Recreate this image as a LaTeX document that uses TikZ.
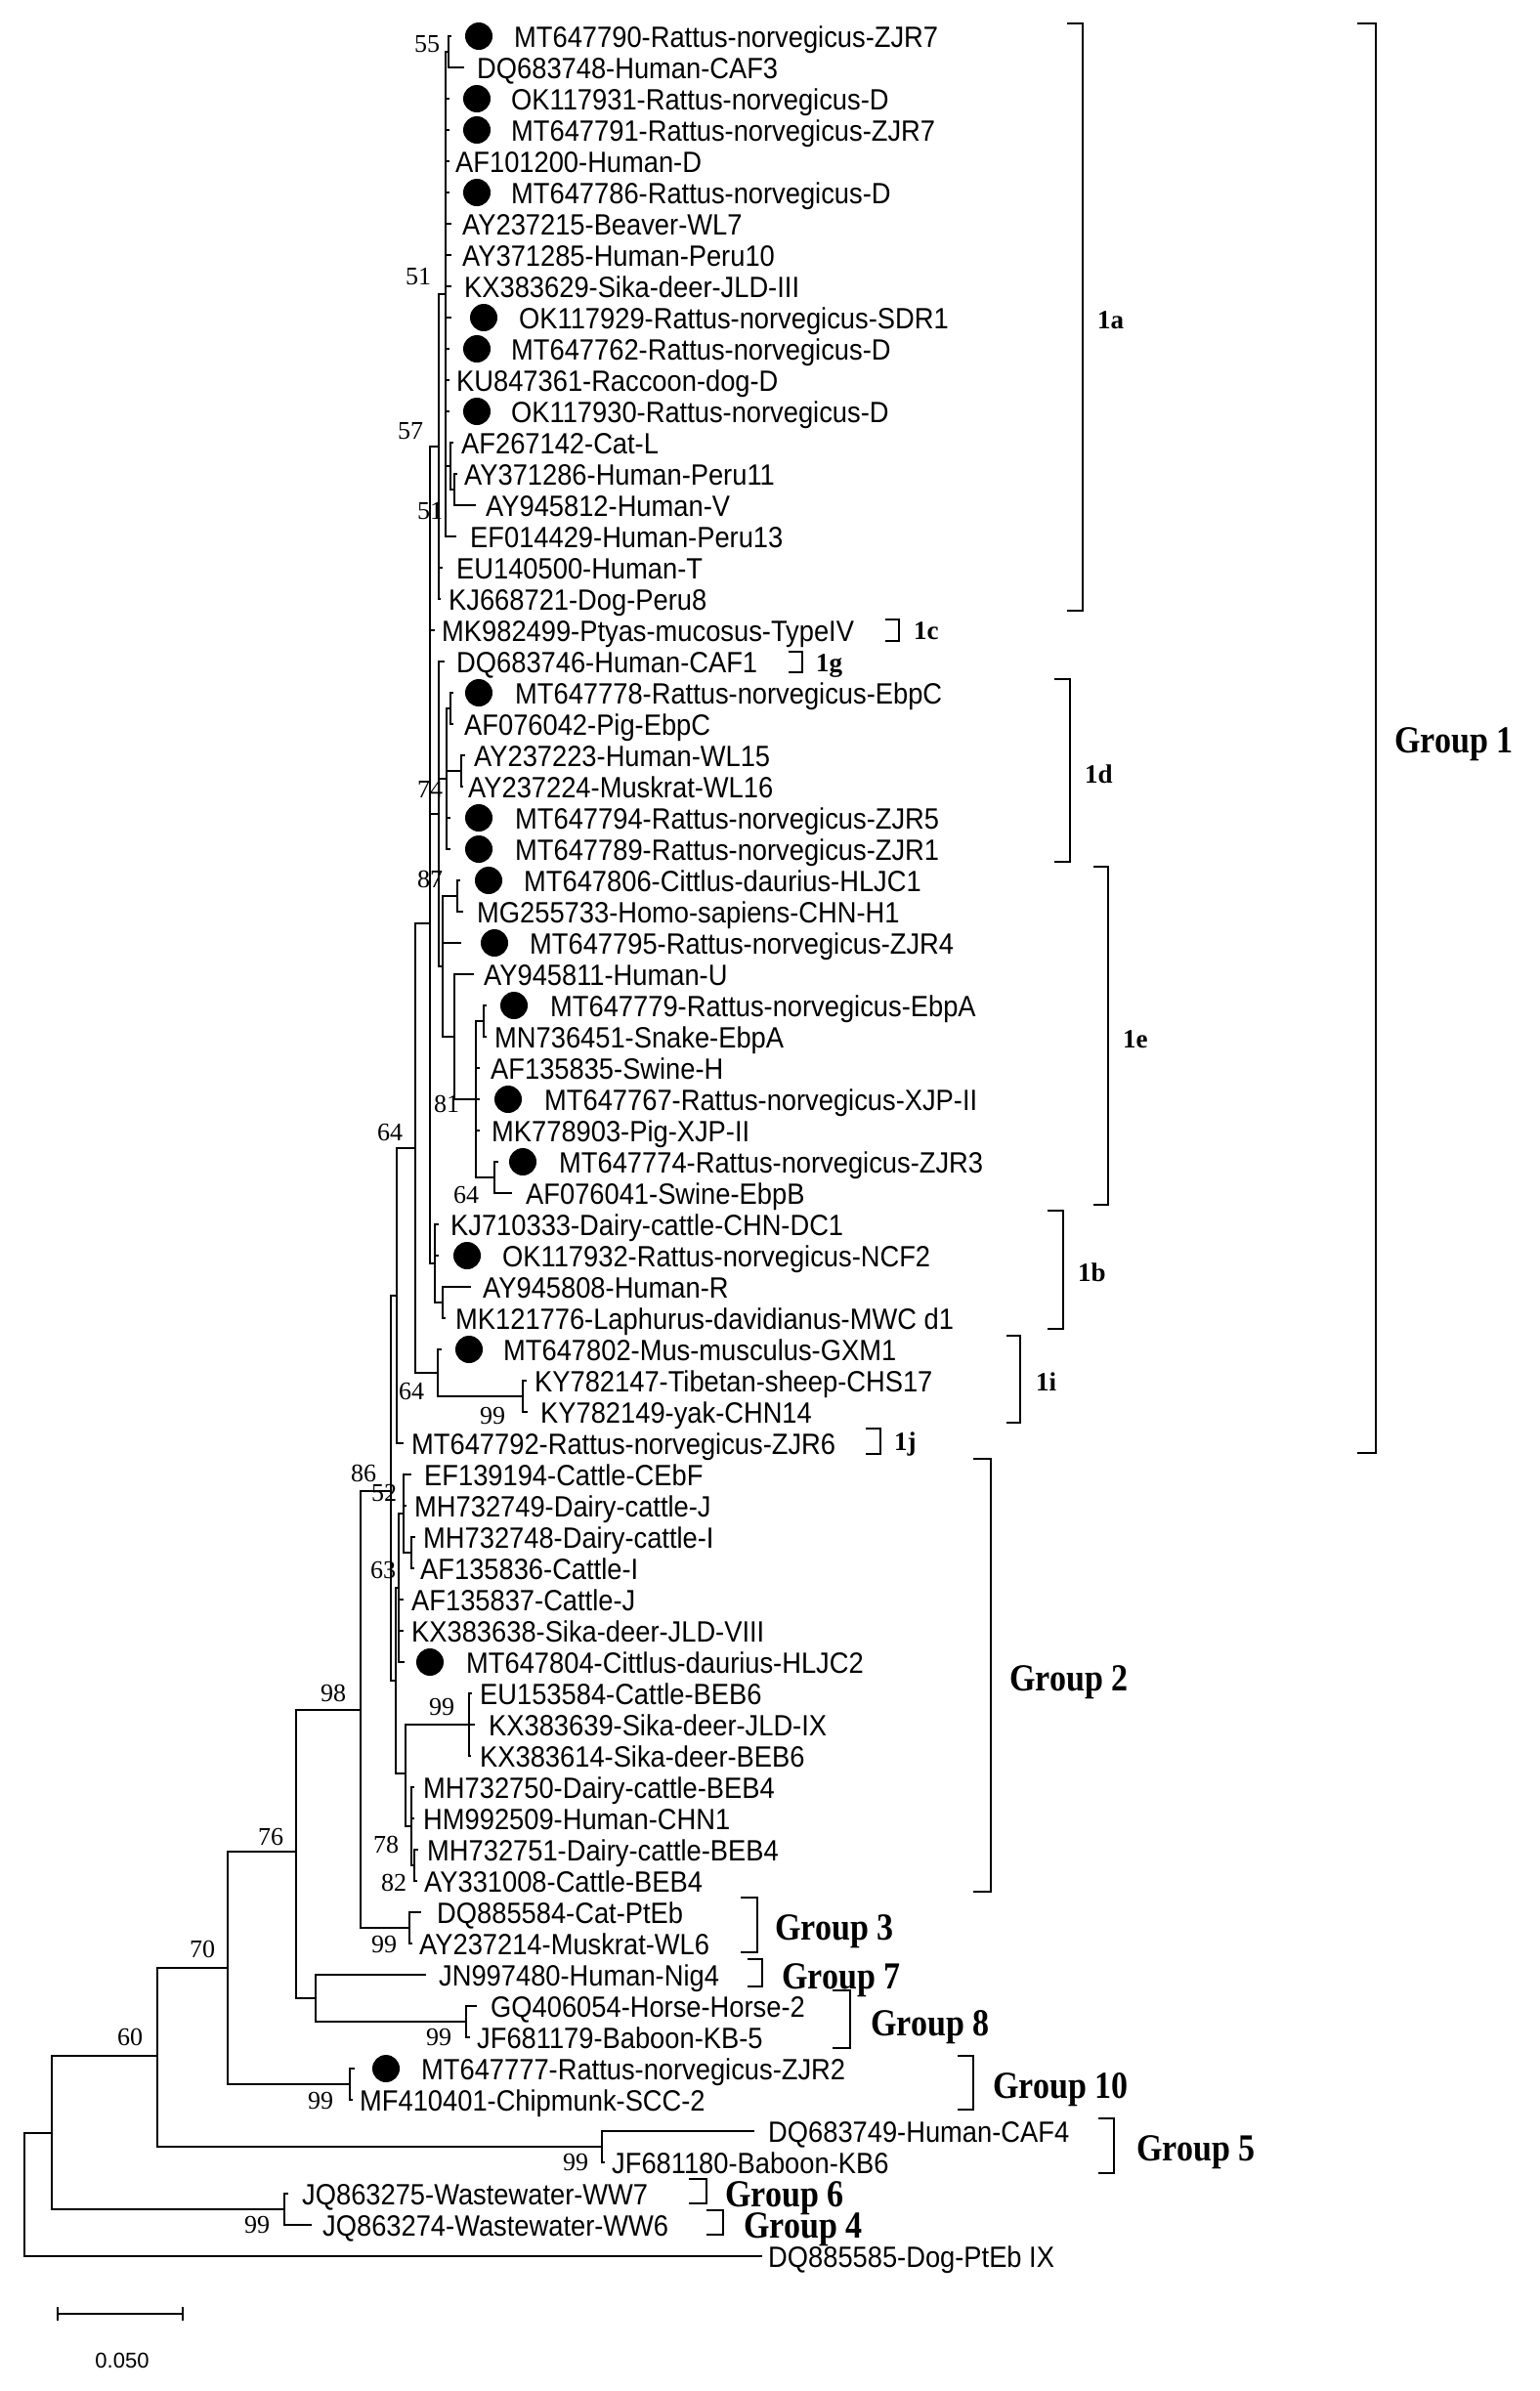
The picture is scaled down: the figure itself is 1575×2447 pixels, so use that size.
\documentclass[tikz,border=0pt]{standalone}
\usepackage{fontspec}
\setmainfont{Liberation Serif}
\newfontfamily\ar{Liberation Sans}
\newcommand\leafA[6]{%
  \coordinate (t#1) at (#3,#4);
  \draw[br] (#2) |- (t#1);
  \node[leaf] (l#1) at (#5,#4) {\scalebox{1}[1.1]{#6}};}
\newcommand\leafB[7]{%
  \coordinate (t#1) at (#3,#4);
  \draw[br] (#2) |- (t#1);
  \node[dotn] (d#1) at (#7,#4) {};
  \node[leaf] (l#1) at (#5,#4) {\scalebox{1}[1.1]{#6}};}
\newcommand\brak[5]{%
  \coordinate (#1a) at (#3,#4); \coordinate (#1b) at (#2,#4);
  \coordinate (#1c) at (#2,#5); \coordinate (#1d) at (#3,#5);
  \draw[br] (#1a) -- (#1b) -- (#1c) -- (#1d);}
\newcommand\grplab[3]{\node[grp] (#1) at (#2) {\scalebox{1}[1.15]{#3}};}
\begin{document}
\begin{tikzpicture}[x=1pt,y=-1pt,
  br/.style={line width=1.7pt},
  leaf/.style={font=\ar\fontsize{27.3}{30}\selectfont, anchor=base west, inner sep=0pt, yshift=-11pt},
  dotn/.style={circle, fill=black, minimum width=27pt, minimum height=28pt, inner sep=0pt},
  boot/.style={font=\fontsize{26}{28}\selectfont, inner sep=0pt},
  grp/.style={font=\bfseries\fontsize{34}{36}\selectfont, anchor=base west, inner sep=0pt, yshift=-13pt},
  sub/.style={font=\bfseries\fontsize{27}{30}\selectfont, anchor=base west, inner sep=0pt, yshift=-9pt}]
\useasboundingbox (0,0) rectangle (1575,2447);
% internal nodes
\coordinate (root) at (25,2246);
\coordinate (n60) at (53,2183);
\coordinate (n70) at (161,2104);
\coordinate (nWW) at (291,2261);
\coordinate (n76) at (233,2014);
\coordinate (nG5) at (616,2197);
\coordinate (n98) at (303,1895);
\coordinate (n10) at (358,2133);
\coordinate (nG78) at (323,2045);
\coordinate (nG8) at (477,2069);
\coordinate (n86) at (369,1750);
\coordinate (nG3) at (419,1973);
\coordinate (nG12) at (400,1526);
\coordinate (G1) at (406,1326);
\coordinate (G2) at (405,1720);
\coordinate (n64a) at (425,1175);
\coordinate (nX) at (440,945);
\coordinate (n1i) at (448,1405);
\coordinate (pK) at (535,1429);
\coordinate (n1b) at (445,1293);
\coordinate (pb) at (453,1333);
\coordinate (n1a) at (449,457);
\coordinate (n51a) at (456,301);
\coordinate (n55) at (459,53);
\coordinate (n51b) at (461,477);
\coordinate (n51bb) at (465,501);
\coordinate (ng) at (449,833);
\coordinate (n74) at (457,797);
\coordinate (p1) at (461,725);
\coordinate (p2) at (472,789);
\coordinate (n87) at (453,989);
\coordinate (pC) at (468,917);
\coordinate (E2) at (465,1061);
\coordinate (n81) at (487,1125);
\coordinate (pA) at (495,1045);
\coordinate (pB) at (506,1205);
\coordinate (n63) at (408,1625);
\coordinate (n52) at (413,1549);
\coordinate (pI) at (421,1589);
\coordinate (nb) at (415,1815);
\coordinate (n99) at (480,1765);
\coordinate (n78) at (421,1869);
\coordinate (n82) at (424,1909);
% internal branches
\foreach \p/\c in {root/n60,n60/n70,n60/nWW,n70/n76,n70/nG5,n76/n98,n76/n10,n98/n86,n98/nG78,
  nG78/nG8,n86/nG12,n86/nG3,nG12/G1,nG12/G2,G1/n64a,n64a/nX,n64a/n1i,n1i/pK,nX/n1a,nX/ng,nX/n1b,
  n1b/pb,n1a/n51a,n51a/n55,n51a/n51b,n51b/n51bb,ng/n74,ng/n87,n74/p1,n74/p2,n87/pC,n87/E2,E2/n81,
  n81/pA,n81/pB,G2/n63,G2/nb,n63/n52,n52/pI,nb/n99,nb/n78,n78/n82}
  {\draw[br] (\p) |- (\c);}
% leaves
\leafB{1}{n55}{462}{37}{526}{MT647790-Rattus-norvegicus-ZJR7}{490}
\leafA{2}{n55}{475}{69}{488}{DQ683748-Human-CAF3}
\leafB{3}{n51a}{460}{101}{523}{OK117931-Rattus-norvegicus-D}{488}
\leafB{4}{n51a}{460}{133}{523}{MT647791-Rattus-norvegicus-ZJR7}{488}
\leafA{5}{n51a}{460}{165}{466}{AF101200-Human-D}
\leafB{6}{n51a}{460}{197}{523}{MT647786-Rattus-norvegicus-D}{488}
\leafA{7}{n51a}{462}{229}{473}{AY237215-Beaver-WL7}
\leafA{8}{n51a}{462}{261}{473}{AY371285-Human-Peru10}
\leafA{9}{n51a}{462}{293}{475}{KX383629-Sika-deer-JLD-III}
\leafB{10}{n51a}{462}{325}{531}{OK117929-Rattus-norvegicus-SDR1}{495}
\leafB{11}{n51a}{460}{357}{523}{MT647762-Rattus-norvegicus-D}{488}
\leafA{12}{n51a}{460}{389}{467}{KU847361-Raccoon-dog-D}
\leafB{13}{n51a}{460}{421}{523}{OK117930-Rattus-norvegicus-D}{488}
\leafA{14}{n51b}{464}{453}{472}{AF267142-Cat-L}
\leafA{15}{n51bb}{468}{485}{475}{AY371286-Human-Peru11}
\leafA{16}{n51bb}{487}{517}{497}{AY945812-Human-V}
\leafA{17}{n51a}{467}{549}{481}{EF014429-Human-Peru13}
\leafA{18}{n1a}{453}{581}{467}{EU140500-Human-T}
\leafA{19}{n1a}{451}{613}{459}{KJ668721-Dog-Peru8}
\leafA{20}{nX}{445}{645}{452}{MK982499-Ptyas-mucosus-TypeIV}
\leafA{21}{ng}{455}{677}{467}{DQ683746-Human-CAF1}
\leafB{22}{p1}{464}{709}{527}{MT647778-Rattus-norvegicus-EbpC}{490}
\leafA{23}{p1}{464}{741}{475}{AF076042-Pig-EbpC}
\leafA{24}{p2}{476}{773}{485}{AY237223-Human-WL15}
\leafA{25}{p2}{474}{805}{479}{AY237224-Muskrat-WL16}
\leafB{26}{n74}{461}{837}{527}{MT647794-Rattus-norvegicus-ZJR5}{490}
\leafB{27}{n74}{461}{869}{527}{MT647789-Rattus-norvegicus-ZJR1}{490}
\leafB{28}{pC}{471}{901}{536}{MT647806-Cittlus-daurius-HLJC1}{500}
\leafA{29}{pC}{474}{933}{488}{MG255733-Homo-sapiens-CHN-H1}
\leafB{30}{n87}{472}{965}{542}{MT647795-Rattus-norvegicus-ZJR4}{506}
\leafA{31}{E2}{485}{997}{495}{AY945811-Human-U}
\leafB{32}{pA}{498}{1029}{563}{MT647779-Rattus-norvegicus-EbpA}{526}
\leafA{33}{pA}{498}{1061}{506}{MN736451-Snake-EbpA}
\leafA{34}{n81}{491}{1093}{502}{AF135835-Swine-H}
\leafB{35}{n81}{491}{1125}{557}{MT647767-Rattus-norvegicus-XJP-II}{520}
\leafA{36}{n81}{491}{1157}{503}{MK778903-Pig-XJP-II}
\leafB{37}{pB}{510}{1189}{572}{MT647774-Rattus-norvegicus-ZJR3}{535}
\leafA{38}{pB}{524}{1221}{538}{AF076041-Swine-EbpB}
\leafA{39}{n1b}{449}{1253}{461}{KJ710333-Dairy-cattle-CHN-DC1}
\leafB{40}{n1b}{449}{1285}{514}{OK117932-Rattus-norvegicus-NCF2}{478}
\leafA{41}{pb}{482}{1317}{494}{AY945808-Human-R}
\leafA{42}{pb}{456}{1349}{466}{MK121776-Laphurus-davidianus-MWC d1}
\leafB{43}{n1i}{452}{1381}{515}{MT647802-Mus-musculus-GXM1}{480}
\leafA{44}{pK}{539}{1413}{547}{KY782147-Tibetan-sheep-CHS17}
\leafA{45}{pK}{540}{1445}{553}{KY782149-yak-CHN14}
\leafA{46}{G1}{413}{1477}{421}{MT647792-Rattus-norvegicus-ZJR6}
\leafA{47}{n52}{421}{1509}{434}{EF139194-Cattle-CEbF}
\leafA{48}{n52}{416}{1541}{424}{MH732749-Dairy-cattle-J}
\leafA{49}{pI}{425}{1573}{433}{MH732748-Dairy-cattle-I}
\leafA{50}{pI}{424}{1605}{430}{AF135836-Cattle-I}
\leafA{51}{n63}{413}{1637}{421}{AF135837-Cattle-J}
\leafA{52}{n63}{413}{1669}{421}{KX383638-Sika-deer-JLD-VIII}
\leafB{53}{n63}{414}{1701}{477}{MT647804-Cittlus-daurius-HLJC2}{440}
\leafA{54}{n99}{483}{1733}{491}{EU153584-Cattle-BEB6}
\leafA{55}{n99}{486}{1765}{500}{KX383639-Sika-deer-JLD-IX}
\leafA{56}{n99}{482}{1797}{491}{KX383614-Sika-deer-BEB6}
\leafA{57}{n78}{424}{1829}{433}{MH732750-Dairy-cattle-BEB4}
\leafA{58}{n78}{424}{1861}{433}{HM992509-Human-CHN1}
\leafA{59}{n82}{428}{1893}{437}{MH732751-Dairy-cattle-BEB4}
\leafA{60}{n82}{427}{1925}{434}{AY331008-Cattle-BEB4}
\leafA{61}{nG3}{431}{1957}{447}{DQ885584-Cat-PtEb}
\leafA{62}{nG3}{422}{1989}{429}{AY237214-Muskrat-WL6}
\leafA{63}{nG78}{436}{2021}{449}{JN997480-Human-Nig4}
\leafA{64}{nG8}{488}{2053}{502}{GQ406054-Horse-Horse-2}
\leafA{65}{nG8}{481}{2085}{488}{JF681179-Baboon-KB-5}
\leafB{66}{n10}{363}{2117}{431}{MT647777-Rattus-norvegicus-ZJR2}{395}
\leafA{67}{n10}{361}{2149}{368}{MF410401-Chipmunk-SCC-2}
\leafA{68}{nG5}{772}{2181}{786}{DQ683749-Human-CAF4}
\leafA{69}{nG5}{619}{2213}{626}{JF681180-Baboon-KB6}
\leafA{70}{nWW}{295}{2245}{309}{JQ863275-Wastewater-WW7}
\leafA{71}{nWW}{319}{2277}{330}{JQ863274-Wastewater-WW6}
\leafA{72}{root}{780}{2309}{786}{DQ885585-Dog-PtEb IX}
% bootstrap values
\node[boot] (b1) at (437,45) {55};
\node[boot] (b2) at (428,283) {51};
\node[boot] (b3) at (420,441) {57};
\node[boot] (b4) at (440,523) {51};
\node[boot] (b5) at (440,808) {74};
\node[boot] (b6) at (440,900) {87};
\node[boot] (b7) at (457,1130) {81};
\node[boot] (b8) at (399,1159) {64};
\node[boot] (b9) at (477,1223) {64};
\node[boot] (b10) at (421,1424) {64};
\node[boot] (b11) at (504,1449) {99};
\node[boot] (b12) at (372,1508) {86};
\node[boot] (b13) at (393,1528) {52};
\node[boot] (b14) at (392,1607) {63};
\node[boot] (b15) at (341,1733) {98};
\node[boot] (b16) at (452,1747) {99};
\node[boot] (b17) at (395,1888) {78};
\node[boot] (b18) at (403,1927) {82};
\node[boot] (b19) at (277,1880) {76};
\node[boot] (b20) at (393,1990) {99};
\node[boot] (b21) at (207,1995) {70};
\node[boot] (b22) at (133,2085) {60};
\node[boot] (b23) at (449,2085) {99};
\node[boot] (b24) at (328,2150) {99};
\node[boot] (b25) at (589,2213) {99};
\node[boot] (b26) at (263,2277) {99};
% brackets and clade labels
\brak{k1a}{1108}{1092}{24}{625}   \node[sub] (s1a) at (1123,327) {1a};
\brak{k1c}{920}{906}{634}{656}    \node[sub] (s1c) at (935,645) {1c};
\brak{k1g}{821}{807}{667}{688}    \node[sub] (s1g) at (835,678) {1g};
\brak{k1d}{1095}{1079}{695}{882}  \node[sub] (s1d) at (1110,792) {1d};
\brak{k1e}{1134}{1119}{887}{1233} \node[sub] (s1e) at (1149,1063) {1e};
\brak{k1b}{1088}{1072}{1239}{1360} \node[sub] (s1b) at (1103,1302) {1b};
\brak{k1i}{1044}{1030}{1367}{1456} \node[sub] (s1i) at (1060,1414) {1i};
\brak{k1j}{901}{886}{1462}{1488}  \node[sub] (s1j) at (915,1475) {1j};
\brak{kG1}{1408}{1389}{24}{1487}  \grplab{g1}{1427,757}{Group 1}
\brak{kG2}{1014}{996}{1493}{1936} \grplab{g2}{1033,1717}{Group 2}
\brak{kG3}{775}{758}{1942}{1998}  \grplab{g3}{793,1972}{Group 3}
\brak{kG7}{780}{765}{2005}{2033}  \grplab{g7}{800,2022}{Group 7}
\brak{kG8}{870}{852}{2037}{2096}  \grplab{g8}{891,2070}{Group 8}
\brak{kGt}{996}{980}{2104}{2159}  \grplab{g10}{1016,2134}{Group 10}
\brak{kG5}{1140}{1124}{2168}{2224} \grplab{g5}{1163,2198}{Group 5}
\brak{kG6}{723}{705}{2230}{2255}  \grplab{g6}{742,2245}{Group 6}
\brak{kG4}{740}{723}{2262}{2287}  \grplab{g4}{761,2277}{Group 4}
% scale bar
\coordinate (sa) at (59,2368);
\coordinate (sb) at (187,2368);
\draw[br] (sa) -- (sb);
\draw[br] (sa) ++(0,-7) -- ++(0,14);
\draw[br] (sb) ++(0,-7) -- ++(0,14);
\node[font=\ar\fontsize{22}{24}\selectfont, inner sep=0pt] (scl) at (125,2416) {0.050};
\end{tikzpicture}
\end{document}
